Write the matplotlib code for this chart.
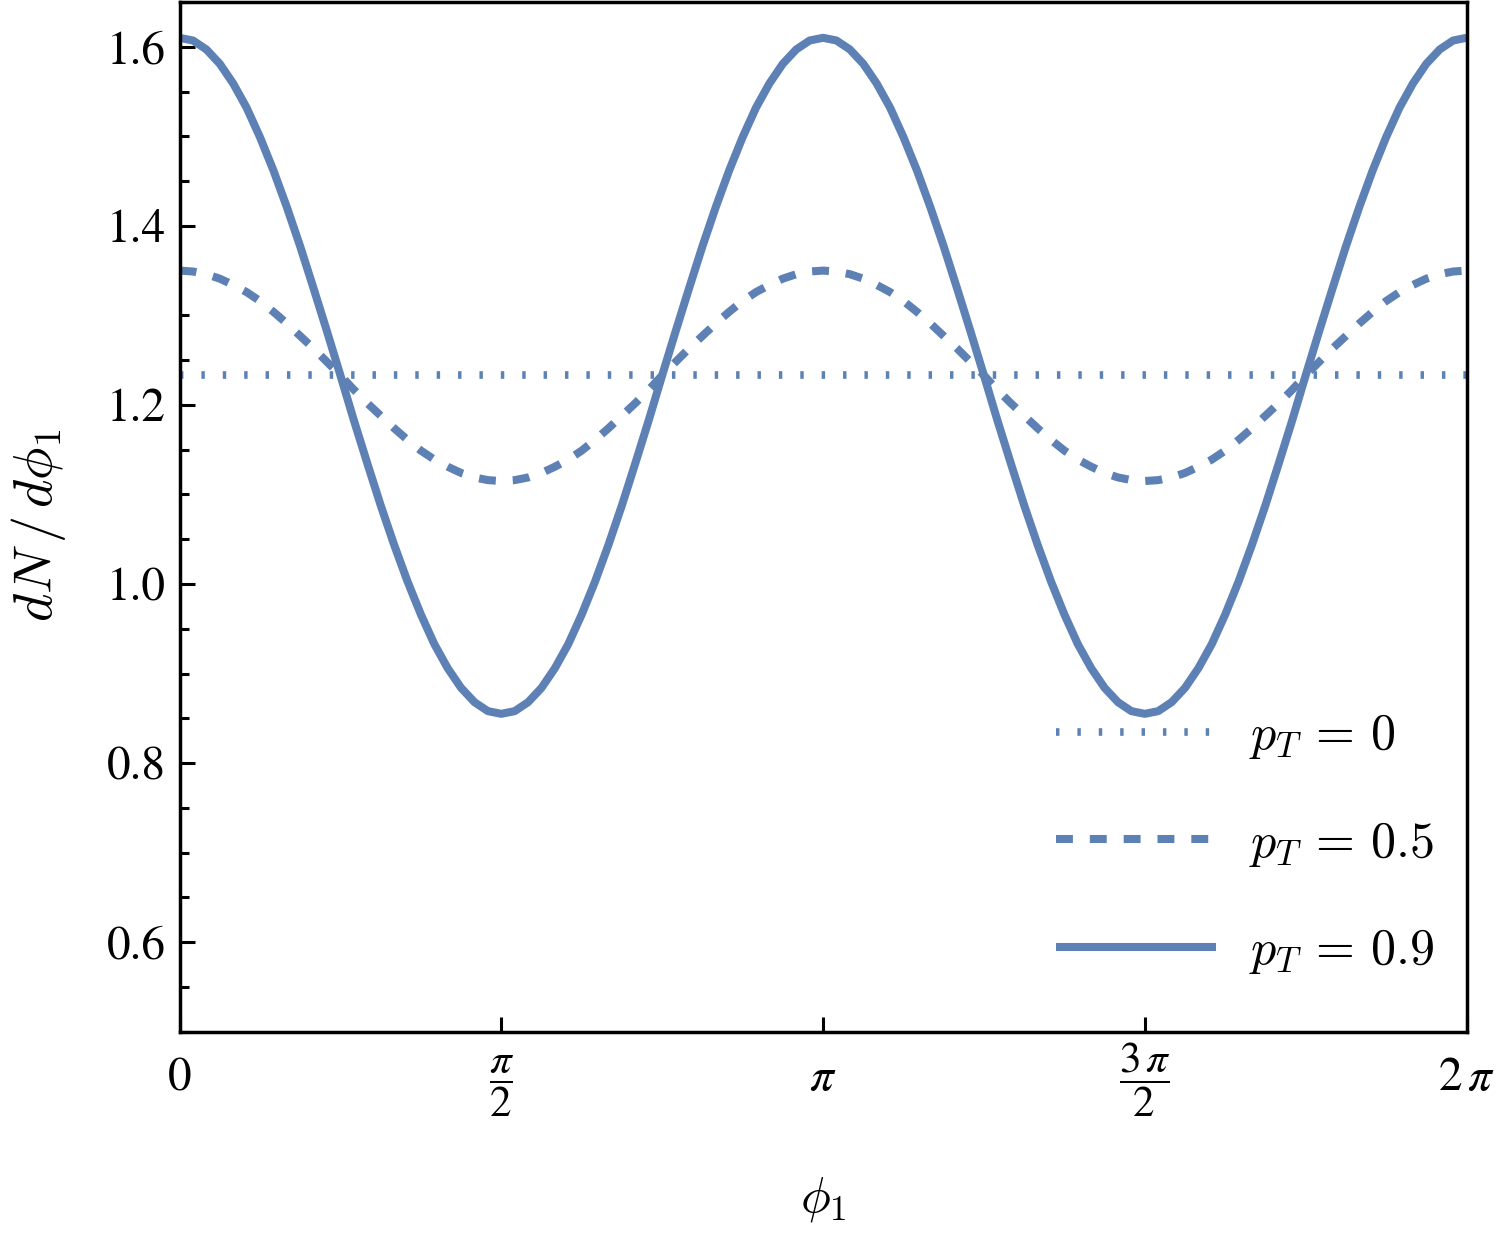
import matplotlib
matplotlib.use('Agg')
import matplotlib.pyplot as plt
from matplotlib.ticker import MultipleLocator
import numpy as np

plt.rcParams['font.family'] = ['STIXGeneral', 'DejaVu Serif']
plt.rcParams['mathtext.fontset'] = 'cm'

# phi_1 sampled every pi/48 from 0 to 2 pi (in units of pi)
phi_over_pi = np.arange(97) / 48

# dN/dphi_1
dn_pt0 = [1.233] * 97
dn_pt05 = [1.350, 1.349, 1.346, 1.341, 1.334, 1.326, 1.316, 1.304, 1.291, 1.277,
           1.263, 1.248, 1.233, 1.217, 1.202, 1.188, 1.174, 1.161, 1.149, 1.139,
           1.131, 1.124, 1.119, 1.116, 1.115, 1.116, 1.119, 1.124, 1.131, 1.139,
           1.149, 1.161, 1.174, 1.188, 1.202, 1.217, 1.233, 1.248, 1.263, 1.277,
           1.291, 1.304, 1.316, 1.326, 1.334, 1.341, 1.346, 1.349, 1.350, 1.349,
           1.346, 1.341, 1.334, 1.326, 1.316, 1.304, 1.291, 1.277, 1.263, 1.248,
           1.233, 1.217, 1.202, 1.188, 1.174, 1.161, 1.149, 1.139, 1.131, 1.124,
           1.119, 1.116, 1.115, 1.116, 1.119, 1.124, 1.131, 1.139, 1.149, 1.161,
           1.174, 1.188, 1.202, 1.217, 1.233, 1.248, 1.263, 1.277, 1.291, 1.304,
           1.316, 1.326, 1.334, 1.341, 1.346, 1.349, 1.350]
dn_pt09 = [1.610, 1.607, 1.597, 1.581, 1.559, 1.532, 1.499, 1.462, 1.421, 1.377,
           1.330, 1.282, 1.233, 1.183, 1.135, 1.088, 1.044, 1.003, 0.966, 0.933,
           0.906, 0.884, 0.868, 0.858, 0.855, 0.858, 0.868, 0.884, 0.906, 0.933,
           0.966, 1.003, 1.044, 1.088, 1.135, 1.183, 1.233, 1.282, 1.330, 1.377,
           1.421, 1.462, 1.499, 1.532, 1.559, 1.581, 1.597, 1.607, 1.610, 1.607,
           1.597, 1.581, 1.559, 1.532, 1.499, 1.462, 1.421, 1.377, 1.330, 1.282,
           1.233, 1.183, 1.135, 1.088, 1.044, 1.003, 0.966, 0.933, 0.906, 0.884,
           0.868, 0.858, 0.855, 0.858, 0.868, 0.884, 0.906, 0.933, 0.966, 1.003,
           1.044, 1.088, 1.135, 1.183, 1.233, 1.282, 1.330, 1.377, 1.421, 1.462,
           1.499, 1.532, 1.559, 1.581, 1.597, 1.607, 1.610]

labels = [r'$p_T\,=\,0$', r'$p_T\,=\,0.5$', r'$p_T\,=\,0.9$']
xtick_pos = [0, 0.5, 1, 1.5, 2]
xtick_labels = ['0', r'$\dfrac{\pi}{2}$', r'$\pi$', r'$\dfrac{3\,\pi}{2}$', r'$2\,\pi$']
ytick_pos = [0.6, 0.8, 1.0, 1.2, 1.4, 1.6]

color = '#5E81B5'
phi = phi_over_pi * np.pi

fig = plt.figure(figsize=(15, 12.46), dpi=100)
ax = fig.add_axes([0.1197, 0.172, 0.858, 0.8264])

ax.plot(phi, dn_pt0, color=color, lw=5.5, linestyle=(0, (0.45, 2.35)),
        dash_capstyle='butt', label=labels[0])
ax.plot(phi, dn_pt05, color=color, lw=5.8, linestyle=(0, (2.1, 2.1)),
        dash_capstyle='butt', label=labels[1])
ax.plot(phi, dn_pt09, color=color, lw=5.8, solid_capstyle='butt', label=labels[2])

ax.set_xlim(0, 2 * np.pi)
ax.set_ylim(0.5, 1.65)

ax.set_xticks(np.array(xtick_pos) * np.pi)
ax.set_xticklabels(xtick_labels)
ax.set_yticks(ytick_pos)
ax.set_yticklabels([f'{v:.1f}' for v in ytick_pos])
ax.yaxis.set_minor_locator(MultipleLocator(0.05))

ax.tick_params(which='both', direction='in', top=False, right=False, width=2.2)
ax.tick_params(which='major', length=11, labelsize=34)
ax.tick_params(which='minor', length=6.5)
ax.tick_params(axis='y', pad=10)
ax.tick_params(axis='x', pad=42)
for lbl in ax.get_xticklabels():
    lbl.set_math_fontfamily('stix')
    lbl.set_verticalalignment('baseline')
    if 'frac' in lbl.get_text():
        lbl.set_fontsize(31)

for sp in ax.spines.values():
    sp.set_linewidth(2.5)

ax.set_xlabel(r'$\phi_1$', fontsize=36)
ax.xaxis.label.set_va('center')
ax.xaxis.set_label_coords(0.5, -0.1625)
ax.set_ylabel(r'$dN\,/\,d\phi_1$', fontsize=39)
ax.yaxis.label.set_va('center')
ax.yaxis.set_label_coords(-0.1096, 0.492)

ax.legend(loc='upper left', bbox_to_anchor=(0.681, 0.31), frameon=False,
          fontsize=36, handlelength=3.2, handletextpad=0.66, labelspacing=1.17,
          borderaxespad=0, borderpad=0)

plt.savefig('out.png', dpi=100)
